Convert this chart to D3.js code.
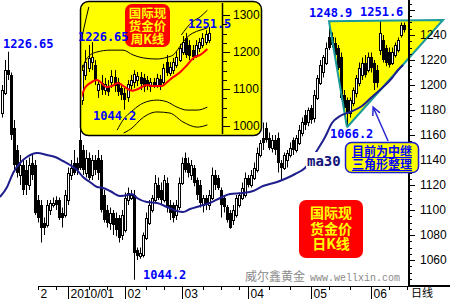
<!DOCTYPE html>
<html>
<head>
<meta charset="utf-8">
<script src="https://cdn.jsdelivr.net/npm/d3@7"></script>
<style>
  html, body { margin: 0; padding: 0; background: #fff; }
  svg { display: block; }
  .num { font-family: "Liberation Sans", Arial, sans-serif; font-size: 12px; }
  .mono { font-family: "DejaVu Sans Mono", monospace; font-weight: bold; font-size: 12px; fill: #0000ff; }
  .cjk { font-family: "Noto Sans CJK SC", sans-serif; }
  .blk { font-family: "Noto Sans CJK SC", sans-serif; font-weight: bold; text-align: center; margin: 0; }
</style>
</head>
<body>
<svg id="chart" width="450" height="300"></svg>
<script>
// daily candles (index 0 .. 134)
var dayOpen = [1178,1194,1212,1208,1166,1148,1128,1136,1132,1120,
  1138,1136,1108,1104,1090,1088,1100,1104,1108,1108,
  1098,1096,1108,1128,1138,1138,1156,1148,1130,1142,
  1128,1140,1142,1140,1112,1100,1090,1098,1094,1094,
  1080,1084,1108,1110,1112,1068,1063,1064,1078,1090,
  1100,1108,1120,1116,1108,1122,1104,1104,1096,1102,
  1122,1142,1138,1128,1134,1124,1120,1104,1110,1104,
  1110,1128,1126,1116,1110,1102,1098,1092,1096,1104,
  1110,1112,1126,1120,1126,1132,1144,1158,1166,1158,
  1150,1156,1158,1138,1134,1140,1144,1156,1148,1154,
  1162,1176,1170,1182,1174,1190,1202,1210,1218,1238,
  1238,1234,1230,1222,1192,1188,1178,1186,1194,1202,
  1208,1218,1212,1222,1218,1212,1228,1236,1230,1226,
  1218,1224,1228,1240,1248];
var dayClose = [1196,1212,1208,1160,1136,1130,1136,1116,1120,1136,
  1128,1098,1094,1086,1086,1104,1106,1106,1104,1094,
  1094,1112,1130,1134,1130,1132,1134,1132,1142,1126,
  1140,1132,1130,1100,1092,1090,1098,1088,1084,1078,
  1096,1110,1114,1112,1066,1063,1066,1080,1094,1104,
  1110,1122,1110,1108,1124,1102,1098,1094,1104,1122,
  1138,1132,1130,1136,1122,1112,1106,1110,1104,1112,
  1128,1120,1118,1104,1102,1092,1086,1100,1110,1112,
  1118,1126,1120,1128,1134,1146,1154,1154,1156,1150,
  1156,1148,1138,1134,1144,1146,1150,1148,1158,1164,
  1170,1168,1180,1172,1192,1206,1216,1222,1230,1230,
  1232,1224,1214,1190,1182,1178,1188,1196,1206,1214,
  1218,1208,1222,1214,1202,1202,1242,1220,1218,1216,
  1226,1232,1236,1248,1244];
var dayHigh = [1200,1220,1226.65,1210,1172,1152,1144,1140,1140,1142,
  1144,1140,1112,1108,1094,1108,1108,1110,1111,1110,
  1102,1116,1134,1140,1148,1142,1166,1152,1148,1146,
  1144,1144,1148,1144,1116,1104,1102,1100,1098,1096,
  1100,1114,1118,1116,1116,1070,1070,1082,1098,1108,
  1112,1128,1126,1122,1128,1126,1108,1106,1108,1126,
  1142,1146,1142,1140,1136,1126,1124,1112,1112,1116,
  1134,1132,1128,1118,1112,1104,1100,1104,1112,1114,
  1122,1130,1128,1132,1138,1150,1156,1170,1170,1162,
  1160,1160,1162,1140,1146,1148,1154,1158,1160,1168,
  1174,1180,1182,1184,1196,1208,1220,1224,1234,1248.9,
  1242,1238,1232,1226,1196,1190,1190,1198,1208,1218,
  1222,1224,1226,1226,1220,1216,1251.6,1240,1232,1230,
  1230,1234,1238,1250,1250];
var dayLow = [1174,1192,1204,1156,1132,1126,1120,1112,1112,1116,
  1124,1096,1090,1074,1080,1086,1096,1102,1100,1092,
  1086,1094,1104,1124,1128,1128,1132,1128,1126,1124,
  1124,1128,1124,1098,1090,1086,1084,1080,1079,1074,
  1076,1082,1104,1108,1044.2,1060,1061,1062,1076,1088,
  1098,1106,1108,1104,1106,1098,1092,1090,1092,1100,
  1120,1130,1126,1124,1119,1108,1102,1098,1100,1100,
  1108,1116,1116,1094,1098,1090,1085,1088,1094,1102,
  1108,1110,1118,1118,1124,1130,1142,1148,1154,1148,
  1146,1144,1130,1124,1132,1134,1142,1144,1146,1152,
  1159,1164,1167,1169,1170,1188,1200,1206,1216,1228,
  1230,1222,1212,1188,1180,1166.2,1174,1183,1190,1199,
  1204,1206,1210,1210,1196,1198,1224,1218,1215,1214,
  1216,1222,1226,1238,1242];

// ma30 at these candle positions
var maIdx = [-0.7,1.7,3.7,6,8.3,11.7,15,17.7,20.3,22.7,25,27,29.3,31.7,33.7,36,39.3,42,43.3,45,
  48.3,51.7,55,58.3,60.3,62.7,66,69.3,72.7,76,80.3,83.7,87,91.7,95,97.7,101,105.3,107.7,110,
  112.7,116,120,123.3,126.7,130,132,133.7];
var maVal = [1110.4,1118.4,1129.6,1137.6,1142.4,1145.6,1144,1142.4,1139.2,1136,1132,1126.4,1122.4,1118.4,1117.6,1115.2,1111.2,1112,1112.8,1109.6,
  1106.4,1105.6,1102.4,1099.2,1098.4,1100.8,1103.2,1105.6,1109.6,1112.8,1113.6,1115.2,1119.2,1122.4,1125.6,1128.8,1133.6,1148.8,1158.4,1169.6,
  1175.2,1178.4,1183.2,1190.4,1197.6,1205.6,1212,1216];

var priceTicks = [1060,1080,1100,1120,1140,1160,1180,1200,1220,1240];
var monthLabels = ['2','2010/01','02','03','04','05','06'];
var monthIdx = [12,22,41,60,82,103,123];
var weekIdx = [18,29,35,48,54,67,73,79,89,96,109,116,129,135];

// triangle: top-left, right, bottom
var triIdx = [109,147,115];
var triVal = [1251,1252,1166.2];
var arrowFrom = [128.7,1155.2];
var arrowTo = [123.7,1182.4];

// weekly inset
var wkOpen = [1070,1138,1157,1173,1165,1097,1116,1097,1108,1119,1132,1119,1103,1089,1078,1111,1119,1124,1132,1130,
  1124,1108,1119,1111,1127,1119,1173,1143,1151,1165,1178,1200,1238,1219,1205,1192,1211,1219,1227,1232];
var wkClose = [1151,1173,1184,1187,1124,1114,1097,1114,1092,1135,1108,1092,1084,1070,1114,1124,1141,1135,1114,1105,
  1108,1119,1111,1130,1111,1157,1143,1160,1173,1187,1211,1227,1192,1189,1187,1219,1227,1238,1249,1251];
var wkHigh = [1165,1205,1219,1226.65,1178,1124,1138,1130,1124,1151,1151,1130,1114,1103,1124,1138,1151,1146,1146,1141,
  1135,1130,1130,1141,1138,1168,1192,1173,1184,1200,1222,1243,1251.5,1232,1219,1232,1238,1251,1259,1268];
var wkLow = [1057,1124,1146,1151,1111,1076,1084,1084,1081,1103,1092,1081,1070,1044.2,1065,1097,1103,1108,1097,1092,
  1097,1092,1103,1103,1097,1108,1135,1135,1141,1157,1173,1192,1184,1178,1178,1184,1200,1211,1219,1224];
var wkMaIdx = [-0.5,0.9,2.5,4.6,7.7,9.2,11.1,13.2,15.4,17.2,20,21.8,24.6,26.2,28,30.2,32.3,34.2,36.3,38.5];
var wkMaVal = [1070,1103,1116,1124,1105,1108,1116,1105,1095,1100,1111,1108,1108,1119,1132,1146,1165,1184,1192,1208];
var bandUpOutIdx = [-0.6,0.6,2.1,null,30.5,33.8,36.3,38.5];
var bandUpOutVal = [1215,1265,1322,null,1246,1281,1295,1313];
var bandUpInIdx = [-0.6,0.9,2.5,4.6,8.6,12.6,15.7,18.8,23,26.2,28,30.8,32.3,34,36.3,38.5];
var bandUpInVal = [1130,1173,1192,1200,1205,1205,1192,1184,1181,1186,1192,1224,1240,1251,1259,1265];
var bandLoInIdx = [10.8,12.6,15.7,18.8,23,26.2,29.2,32.3,35.4,38.5];
var bandLoInVal = [989,1016,1043,1062,1070,1065,1051,1043,1043,1051];
var bandLoOutIdx = [12.8,15.7,17.8,20,23,27,31,35.4,38.5];
var bandLoOutVal = [981,997,1016,1030,1038,1035,1011,997,1003];
var wkTicks = [1000,1100,1200,1300];

var svg = d3.select('#chart');
svg.append('rect').attr('width', 450).attr('height', 300).attr('fill', '#fff');

var x = d3.scaleLinear().domain([0, 134]).range([2, 404]),
    y = d3.scaleLinear().domain([1060, 1240]).range([260, 35]);

var pts = function(idx, val) {
  return idx.map(function(d, i) { return [d, val[i]]; });
};

// triangle fill sits under the candles
var tri = pts(triIdx, triVal).map(function(p) { return [x(p[0]), y(p[1])]; });
svg.append('path')
  .attr('d', 'M' + tri.join('L') + 'Z')
  .attr('fill', '#ffff00');

var drawCandles = function(g, xs, ys, o, h, l, c, w) {
  o.forEach(function(op, i) {
    var cx = Math.round(xs(i)),
        top = Math.round(ys(Math.max(op, c[i]))),
        bot = Math.round(ys(Math.min(op, c[i])));
    g.append('line')
      .attr('x1', cx + 0.5).attr('x2', cx + 0.5)
      .attr('y1', ys(h[i])).attr('y2', ys(l[i]))
      .attr('stroke', '#000').attr('stroke-width', 1);
    if (c[i] >= op) {
      g.append('rect')
        .attr('x', cx - 0.5).attr('y', top + 0.5)
        .attr('width', w - 1).attr('height', Math.max(bot - top, 1))
        .attr('fill', '#fff').attr('stroke', '#000').attr('stroke-width', 1);
    } else {
      g.append('rect')
        .attr('x', cx - 1).attr('y', top)
        .attr('width', w).attr('height', Math.max(bot - top, 2))
        .attr('fill', '#000');
    }
  });
};

drawCandles(svg.append('g'), x, y, dayOpen, dayHigh, dayLow, dayClose, 3);

// triangle edges
svg.append('path')
  .attr('d', 'M' + [tri[2], tri[0], tri[1], tri[2]].join('L'))
  .attr('fill', 'none')
  .attr('stroke', '#1a9a9a')
  .attr('stroke-width', 2);

// ma30
svg.append('path')
  .attr('d', d3.line()
    .x(function(d) { return x(d[0]); })
    .y(function(d) { return y(d[1]); })
    .curve(d3.curveMonotoneX)(pts(maIdx, maVal)))
  .attr('fill', 'none')
  .attr('stroke', '#1e1e8c')
  .attr('stroke-width', 2);

svg.append('rect').attr('x', 306).attr('y', 152).attr('width', 38).attr('height', 16).attr('fill', '#fff');
svg.append('text')
  .attr('x', 307).attr('y', 166)
  .attr('font-family', '"DejaVu Sans Mono", monospace')
  .attr('font-weight', 'bold').attr('font-size', 14)
  .attr('fill', '#14147a')
  .text('ma30');

// right axis
var axisX = 409;
svg.append('line')
  .attr('x1', axisX).attr('x2', axisX).attr('y1', 0).attr('y2', 286)
  .attr('stroke', '#000').attr('stroke-width', 2);
d3.range(1045, 1268, 5).forEach(function(v) {
  var major = v % 20 === 0;
  svg.append('line')
    .attr('x1', axisX).attr('x2', axisX + (major ? 6 : 3))
    .attr('y1', Math.round(y(v)) + 0.5).attr('y2', Math.round(y(v)) + 0.5)
    .attr('stroke', '#000');
});
svg.selectAll('text.pt')
  .data(priceTicks)
  .enter()
    .append('text')
    .attr('class', 'num')
    .attr('x', 420)
    .attr('y', function(d) { return y(d) + 4; })
    .text(function(d) { return d; });

// bottom axis
svg.append('line')
  .attr('x1', 38).attr('x2', axisX).attr('y1', 286.5).attr('y2', 286.5)
  .attr('stroke', '#000');
svg.append('line')
  .attr('x1', axisX).attr('x2', 450).attr('y1', 286).attr('y2', 286)
  .attr('stroke', '#000').attr('stroke-width', 2);
weekIdx.concat([monthIdx[0]]).forEach(function(i) {
  svg.append('line')
    .attr('x1', Math.round(x(i)) + 0.5).attr('x2', Math.round(x(i)) + 0.5)
    .attr('y1', 287).attr('y2', 290)
    .attr('stroke', '#000');
});
monthLabels.forEach(function(t, k) {
  var mx = Math.round(x(monthIdx[k])) + 0.5;
  if (k > 0) {
    svg.append('line')
      .attr('x1', mx).attr('x2', mx).attr('y1', 287).attr('y2', 299)
      .attr('stroke', '#000');
  }
  svg.append('text')
    .attr('class', 'num')
    .attr('x', mx + 2).attr('y', 298)
    .attr('font-size', 12)
    .text(t);
});
svg.append('text')
  .attr('class', 'cjk')
  .attr('x', 411).attr('y', 297)
  .attr('font-size', 11)
  .text('日线');

// watermark
svg.append('text')
  .attr('class', 'cjk')
  .attr('x', 245).attr('y', 281)
  .attr('font-size', 12).attr('fill', '#8a8a8a')
  .text('威尔鑫黄金');
svg.append('text')
  .attr('x', 310).attr('y', 281)
  .attr('font-family', '"Liberation Mono", monospace')
  .attr('font-size', 10).attr('fill', '#8a8a8a')
  .text('www.wellxin.com');

// price labels
var label = function(t, lx, ly) {
  svg.append('text').attr('class', 'mono').attr('x', lx).attr('y', ly).text(t);
};
label('1226.65', 3, 48);
label('1248.9', x(109) - 20, 17);
label('1251.6', x(126) - 20, 16);
label('1066.2', x(115) - 17, 138);
label('1044.2', x(44) + 9, 279);

// multi-line block: one html paragraph, lines packed tight like the original
var block = function(lines, bx, by, bw, bh, size, lh, fill, deco) {
  svg.append('foreignObject')
    .attr('x', bx).attr('y', by).attr('width', bw).attr('height', bh)
    .append('xhtml:p')
    .attr('class', 'blk')
    .style('font-size', size + 'px')
    .style('line-height', lh + 'px')
    .style('color', fill)
    .style('text-decoration', deco || 'none')
    .html(lines.join('<br>'));
};

var titleBox = function(bx, by, bw, bh, size, lines, top, lh) {
  svg.append('rect')
    .attr('x', bx).attr('y', by).attr('width', bw).attr('height', bh)
    .attr('rx', 7).attr('fill', '#ff0000');
  block(lines, bx, by + top, bw, bh - top, size, lh, '#ffff00');
};
titleBox(299, 200, 64, 58, 14, ['国际现', '货金价', '日K线'], 5, 15.5);

// callout + arrow
var a0 = [x(arrowFrom[0]), y(arrowFrom[1])],
    a1 = [x(arrowTo[0]), y(arrowTo[1])],
    ang = Math.atan2(a0[1] - a1[1], a0[0] - a1[0]);
svg.append('path')
  .attr('d', 'M' + a0 + 'L' + a1 +
    'M' + [a1[0] + 9 * Math.cos(ang - 0.45), a1[1] + 9 * Math.sin(ang - 0.45)] + 'L' + a1 +
    'L' + [a1[0] + 9 * Math.cos(ang + 0.45), a1[1] + 9 * Math.sin(ang + 0.45)])
  .attr('fill', 'none')
  .attr('stroke', '#2a2ad0')
  .attr('stroke-width', 1.5);
svg.append('rect')
  .attr('x', 345.5).attr('y', 142.5).attr('width', 73).attr('height', 30)
  .attr('rx', 6).attr('fill', '#ffff00')
  .attr('stroke', '#1a1ad0').attr('stroke-width', 1.5);
block(['目前为中继', '三角形整理'], 345, 144, 74, 28, 12, 13, '#0000ff', 'underline');

// ---- weekly inset ----
var xi = d3.scaleLinear().domain([0, 39]).range([82, 209]),
    yi = d3.scaleLinear().domain([1000, 1300]).range([126, 15]);

svg.append('rect')
  .attr('x', 80.5).attr('y', 1.5).attr('width', 181).attr('height', 134)
  .attr('rx', 8).attr('fill', '#ffff00')
  .attr('stroke', '#000').attr('stroke-width', 1.5);
svg.append('clipPath').attr('id', 'inset')
  .append('rect').attr('x', 82).attr('y', 3).attr('width', 140).attr('height', 131);

var inset = svg.append('g').attr('clip-path', 'url(#inset)');
var bandLine = d3.line()
  .defined(function(d) { return d[0] !== null; })
  .x(function(d) { return xi(d[0]); })
  .y(function(d) { return yi(d[1]); })
  .curve(d3.curveMonotoneX);
[pts(bandUpOutIdx, bandUpOutVal), pts(bandUpInIdx, bandUpInVal),
 pts(bandLoInIdx, bandLoInVal), pts(bandLoOutIdx, bandLoOutVal)].forEach(function(b) {
  inset.append('path')
    .attr('d', bandLine(b))
    .attr('fill', 'none').attr('stroke', '#000').attr('stroke-width', 1);
});
drawCandles(inset.append('g'), xi, yi, wkOpen, wkHigh, wkLow, wkClose, 3);
inset.append('path')
  .attr('d', bandLine(pts(wkMaIdx, wkMaVal)))
  .attr('fill', 'none').attr('stroke', '#ff0000').attr('stroke-width', 2);

svg.append('line')
  .attr('x1', 222.5).attr('x2', 222.5).attr('y1', 3).attr('y2', 134)
  .attr('stroke', '#000').attr('stroke-width', 1.5);
d3.range(1000, 1301, 25).forEach(function(v) {
  svg.append('line')
    .attr('x1', 222).attr('x2', 222 + (v % 100 === 0 ? 8 : 5))
    .attr('y1', Math.round(yi(v)) + 0.5).attr('y2', Math.round(yi(v)) + 0.5)
    .attr('stroke', '#000');
});
svg.selectAll('text.wt')
  .data(wkTicks)
  .enter()
    .append('text')
    .attr('class', 'num')
    .attr('x', 233)
    .attr('y', function(d) { return yi(d) + 4; })
    .text(function(d) { return d; });

titleBox(125, 4, 45, 43, 12.5, ['国际现', '货金价', '周K线'], 2, 13);
label('1226.65', 78, 41);
label('1251.5', 188, 28);
label('1044.2', 93, 120);
</script>
</body>
</html>
